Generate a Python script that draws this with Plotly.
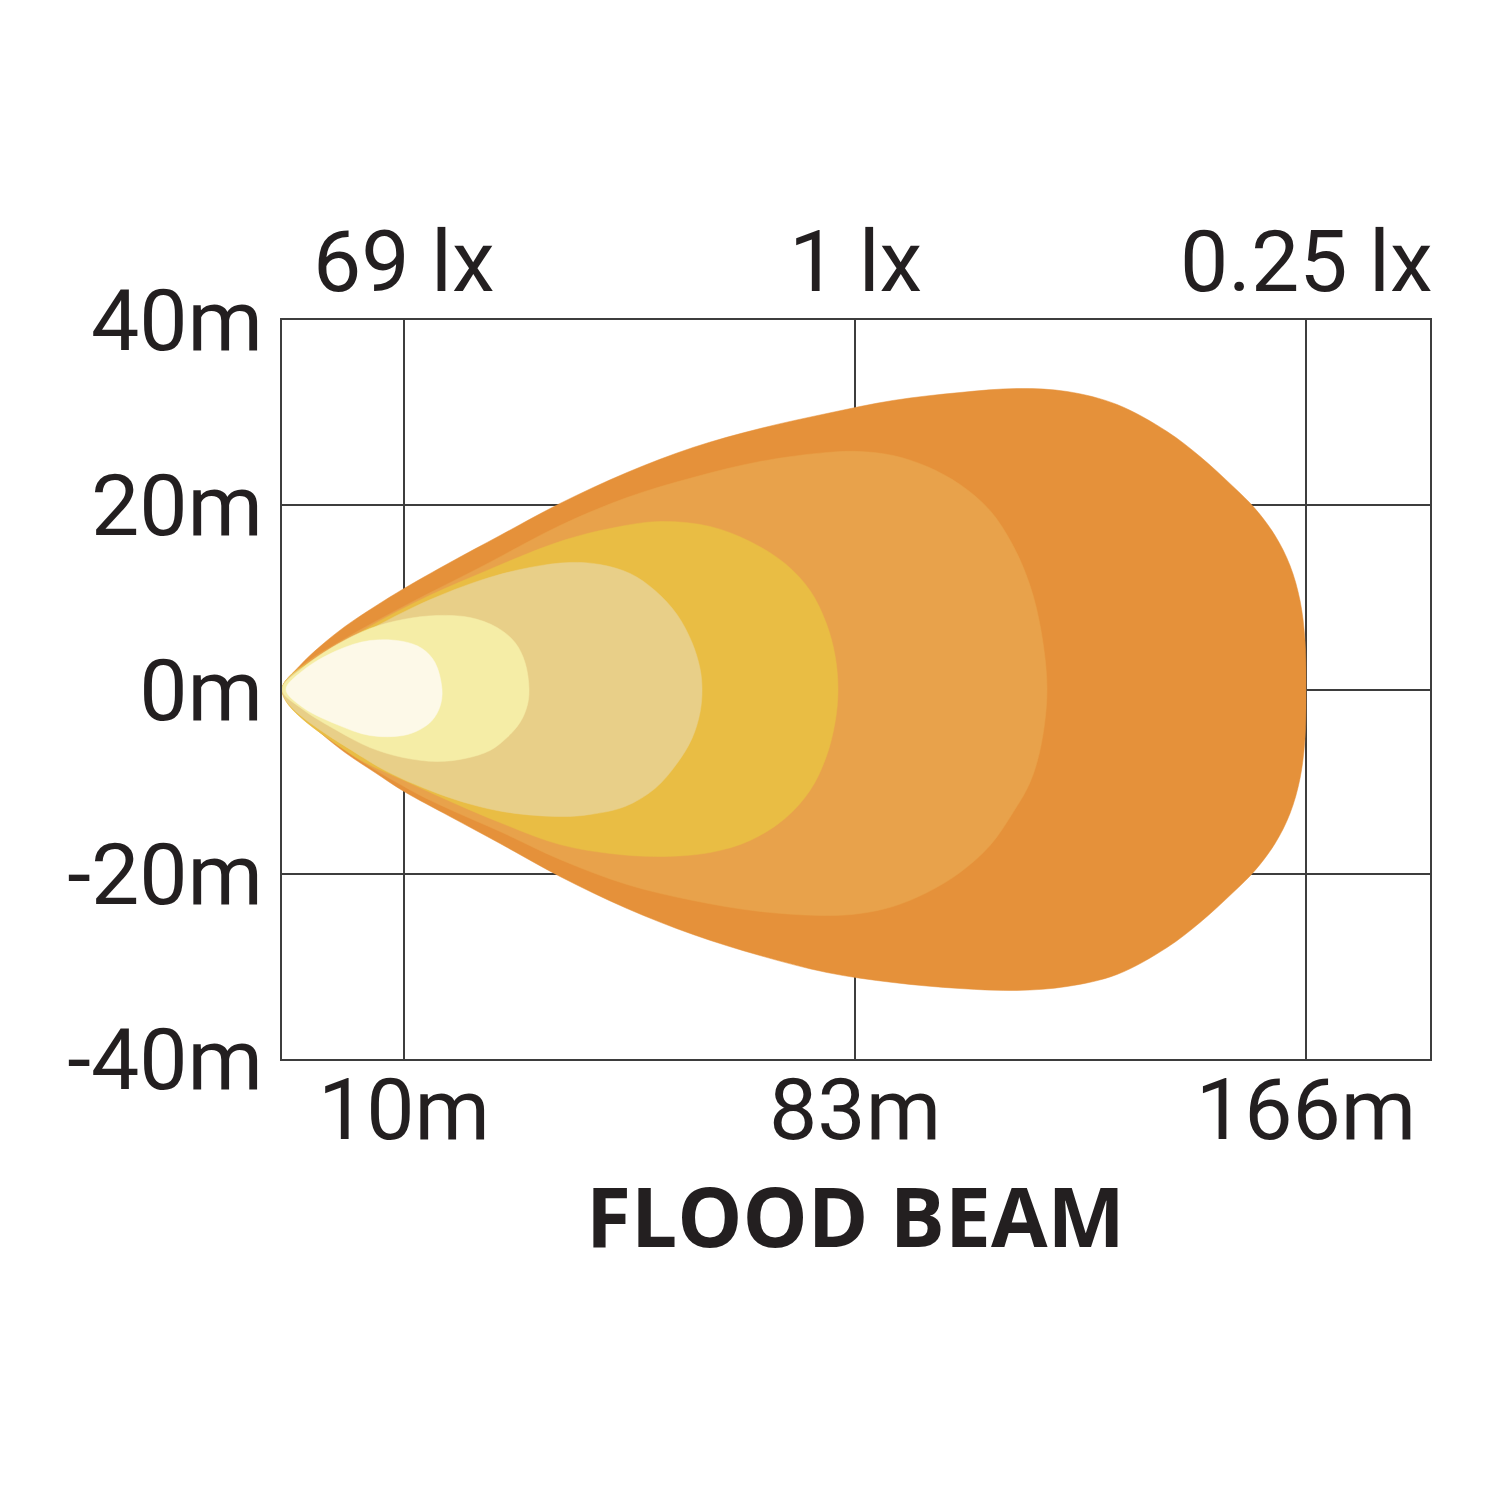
import plotly.graph_objects as go

# x axis is in "grid steps": 10m -> 0, 83m -> 1, 166m -> 2 (the chart's distance scale is not linear)
x_tick_vals = [0, 1, 2]
x_tick_text = ["10m", "83m", "166m"]
lux_text = ["69 lx", "1 lx", "0.25 lx"]
y_tick_vals = [-40, -20, 0, 20, 40]
y_tick_text = ["-40m", "-20m", "0m", "20m", "40m"]

# isolux contours, outermost first (x in grid steps, y in metres)
outer_x = [-0.2705, -0.2306, -0.1863, -0.1308, -0.0643, 0.0, 0.102, 0.2129, 0.3459, 0.4945,
           0.6408, 0.7894, 0.9379, 1.0843, 1.2328, 1.3592, 1.4701, 1.5809, 1.6918, 1.765,
           1.8381, 1.8869, 1.9313, 1.9645, 1.9867, 1.9978, 2.0,
           1.9978, 1.9867, 1.9645, 1.9313, 1.8869, 1.8381, 1.765, 1.6918, 1.5809, 1.4701,
           1.3592, 1.2328, 1.0843, 0.9379, 0.7894, 0.6408, 0.4945, 0.3459, 0.2129, 0.102,
           0.0, -0.0643, -0.1308, -0.1863, -0.2306, -0.2705]
outer_y = [0, 2.6, 4.65, 6.82, 8.99, 10.93, 13.75, 16.67, 20.14, 23.49,
           26.2, 28.25, 29.88, 31.29, 32.15, 32.58, 32.26, 30.85, 27.93, 25.22,
           21.98, 19.59, 16.67, 13.42, 9.63, 5.3, 0,
           -5.3, -9.63, -13.42, -16.67, -19.59, -21.98, -25.22, -27.93, -30.85, -32.15,
           -32.58, -32.37, -31.72, -30.64, -28.8, -26.52, -23.71, -20.24, -16.67, -13.75,
           -11.04, -8.99, -6.82, -4.65, -2.6, 0]

band2_x = [-0.2705, -0.2306, -0.1264, 0.02, 0.1685, 0.3459, 0.4945, 0.6408, 0.7894, 0.9379,
           1.0111, 1.0843, 1.1596, 1.2328, 1.2993, 1.3503, 1.388, 1.4124, 1.4257,
           1.4124, 1.388, 1.3503, 1.2993, 1.2328, 1.1596, 1.0843, 1.0111, 0.9379, 0.7894,
           0.6408, 0.4945, 0.3459, 0.2129, 0.102, 0.02, -0.1264, -0.2306, -0.2705]
band2_y = [0, 2.38, 5.63, 9.53, 13.21, 17.75, 20.78, 22.95, 24.68, 25.66,
           25.76, 25.33, 24.14, 22.19, 19.38, 15.59, 11.26, 6.39, 0,
           -6.06, -10.07, -13.32, -16.89, -19.81, -21.98, -23.49, -24.25, -24.47, -24.03,
           -22.84, -21.11, -18.4, -15.37, -12.99, -11.04, -6.71, -2.38, 0]

band3_x = [-0.2705, -0.1264, 0.02, 0.1685, 0.3459, 0.4568, 0.5676, 0.6785, 0.7672, 0.8448,
           0.9002, 0.9357, 0.9557, 0.9623,
           0.9557, 0.9357, 0.9002, 0.8448, 0.7672, 0.6785, 0.5676, 0.4568, 0.3459, 0.2129,
           0.02, -0.1264, -0.2705]
band3_y = [0, 5.3, 9.31, 12.56, 16.02, 17.43, 18.19, 17.65, 16.02, 13.64,
           10.72, 7.25, 3.68, 0,
           -3.57, -7.36, -10.93, -13.96, -16.35, -17.65, -18.08, -17.75, -16.78, -14.4,
           -10.28, -6.71, 0]

band4_x = [-0.2705, -0.1264, 0.02, 0.1685, 0.2794, 0.3681, 0.4346, 0.5011, 0.5565, 0.6053,
           0.6386, 0.6563, 0.6608,
           0.6563, 0.6386, 0.6053, 0.5565, 0.49, 0.4124, 0.3459, 0.2062, 0.0576, -0.0909,
           -0.2705]
band4_y = [0, 4.98, 8.88, 11.8, 13.21, 13.75, 13.53, 12.56, 10.72, 8.12,
           5.09, 2.27, 0,
           -2.49, -5.3, -8.01, -10.72, -12.67, -13.53, -13.75, -13.1, -10.93, -7.36,
           0]

band5_x = [-0.2705, -0.2239, -0.1486, -0.0754, -0.0022, 0.0732, 0.1463, 0.2062, 0.2461, 0.2683,
           0.2772,
           0.2727, 0.2572, 0.2284, 0.1907, 0.1353, 0.0732, -0.0022, -0.0754, -0.1486, -0.2239,
           -0.2705]
band5_y = [0, 2.38, 4.87, 6.6, 7.58, 8.01, 7.79, 6.71, 5.09, 2.92,
           0,
           -1.84, -3.57, -5.2, -6.6, -7.47, -7.79, -7.36, -6.28, -4.44, -2.17,
           0]

core_x = [-0.2616, -0.2239, -0.1486, -0.0754, -0.0022, 0.0399, 0.0687, 0.0843,
          0.0798, 0.0621, 0.0355, -0.0022, -0.0754, -0.1486, -0.2239, -0.2616]
core_y = [0, 2.06, 4.22, 5.3, 5.2, 4.44, 2.92, 0,
          -1.84, -3.36, -4.33, -4.98, -4.98, -3.79, -1.95, 0]

bands = [
    (outer_x, outer_y, "#e5913a"),
    (band2_x, band2_y, "#e8a24b"),
    (band3_x, band3_y, "#e9bd44"),
    (band4_x, band4_y, "#e8cf88"),
    (band5_x, band5_y, "#f5eda6"),
    (core_x, core_y, "#fdf9e8"),
]

TEXT = "#231f20"
GRID = "#3d3d3d"
FONT = "Roboto"

fig = go.Figure()
for xs, ys, colour in bands:
    fig.add_trace(
        go.Scatter(
            x=xs,
            y=ys,
            mode="lines",
            line=dict(width=0.5, shape="spline", smoothing=1.0, simplify=False, color=colour),
            fill="toself",
            fillcolor=colour,
            hoverinfo="skip",
        )
    )

axis_common = dict(
    showgrid=True,
    gridcolor=GRID,
    gridwidth=1.5,
    zeroline=False,
    showline=True,
    mirror=True,
    linecolor=GRID,
    linewidth=1.5,
    ticks="",
    tickfont=dict(family=FONT, size=86, color=TEXT),
    fixedrange=True,
)

fig.update_xaxes(
    range=[-0.2705, 2.2749],
    tickmode="array",
    tickvals=x_tick_vals,
    ticktext=x_tick_text,
    ticklabelstandoff=-25,
    **axis_common,
)
fig.update_yaxes(
    range=[-40, 40],
    tickmode="array",
    tickvals=y_tick_vals,
    ticktext=y_tick_text,
    ticklabelstandoff=0,
    **axis_common,
)

# illuminance labels along the top
for xv, txt in zip(x_tick_vals, lux_text):
    fig.add_annotation(
        x=xv, xref="x", y=1, yref="paper", yanchor="bottom", yshift=6,
        text=txt, showarrow=False,
        font=dict(family=FONT, size=86, color=TEXT),
    )

fig.add_annotation(
    x=1, xref="x", y=-0.211, yref="paper", yanchor="middle",
    text="<b>FLOOD BEAM</b>", showarrow=False,
    font=dict(family="Open Sans", size=82, color=TEXT),
)

# page body adds an 8px offset, so the figure is a little smaller than the window
fig.update_layout(
    width=1492,
    height=1490,
    margin=dict(l=274, r=70, t=312, b=439),
    paper_bgcolor="white",
    plot_bgcolor="white",
    showlegend=False,
)

fig.write_html("out.html")
